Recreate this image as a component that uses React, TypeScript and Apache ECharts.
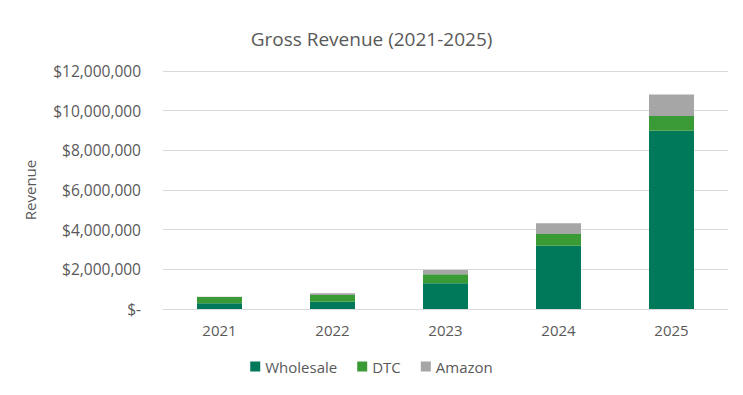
import React, { useEffect, useRef } from "react";
import * as echarts from "echarts";

const years = ["2021", "2022", "2023", "2024", "2025"];
const wholesale = [290000, 370000, 1300000, 3190000, 8990000];
const dtc = [310000, 335000, 450000, 590000, 740000];
const amazon = [20000, 85000, 220000, 540000, 1090000];
const yTicks = { min: 0, max: 12000000, interval: 2000000 };

const FONT = "'Open Sans', 'Noto Sans', sans-serif";
const TXT = "#595959";

function fmt(v: number): string {
  if (v === 0) return "$-";
  return "$" + v.toString().replace(/\B(?=(\d{3})+(?!\d))/g, ",");
}

export default function App() {
  const ref = useRef<HTMLDivElement>(null);
  useEffect(() => {
    const chart = echarts.init(ref.current!, null, { renderer: "svg" });
    chart.setOption({
      animation: false,
      backgroundColor: "#ffffff",
      title: {
        text: "Gross Revenue (2021-2025)",
        left: "center",
        top: 24,
        textStyle: { fontFamily: FONT, fontSize: 19, fontWeight: "normal", color: TXT },
      },
      legend: {
        top: 354,
        left: "center",
        itemWidth: 10,
        itemHeight: 10,
        itemGap: 20,
        icon: "rect",
        textStyle: { fontFamily: FONT, fontSize: 15, color: TXT },
        data: ["Wholesale", "DTC", "Amazon"],
      },
      grid: { left: 163, right: 15, top: 71, bottom: 86 },
      xAxis: {
        type: "category",
        data: years,
        axisTick: { show: false },
        axisLine: { lineStyle: { color: "#d9d9d9" } },
        axisLabel: { fontFamily: FONT, fontSize: 15, color: TXT, margin: 13 },
      },
      yAxis: {
        type: "value",
        min: yTicks.min,
        max: yTicks.max,
        interval: yTicks.interval,
        name: "Revenue",
        nameLocation: "middle",
        nameGap: 126,
        nameRotate: 90,
        nameTextStyle: { fontFamily: FONT, fontSize: 15, color: TXT },
        axisLabel: { fontFamily: FONT, fontSize: 15.5, color: TXT, margin: 22, formatter: fmt },
        splitLine: { lineStyle: { color: "#d9d9d9" } },
      },
      series: [
        { name: "Wholesale", type: "bar", stack: "t", data: wholesale, barWidth: 45, itemStyle: { color: "#00795A" } },
        { name: "DTC", type: "bar", stack: "t", data: dtc, barWidth: 45, itemStyle: { color: "#3A9B36" } },
        { name: "Amazon", type: "bar", stack: "t", data: amazon, barWidth: 45, itemStyle: { color: "#A6A6A6" } },
      ],
    });
    return () => chart.dispose();
  }, []);
  return <div ref={ref} style={{ width: 743, height: 395, margin: -8 }} />;
}
